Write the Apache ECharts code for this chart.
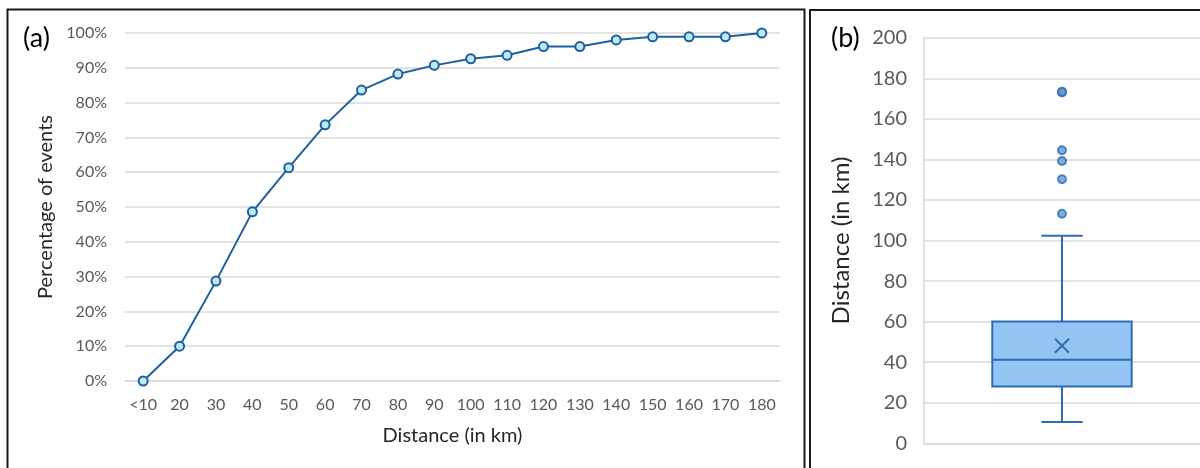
<!DOCTYPE html>
<html>
<head>
<meta charset="utf-8">
<script src="https://cdn.jsdelivr.net/npm/echarts@6/dist/echarts.min.js"></script>
<style>
  html, body { margin: 0; padding: 0; background: #fff; }
  #chart { width: 1200px; height: 468px; }
</style>
</head>
<body>
<div id="chart"></div>
<script>
// ---- Panel (a): cumulative percentage of events by distance ----
const distanceCategories = ['<10', '20', '30', '40', '50', '60', '70', '80', '90', '100', '110', '120', '130', '140', '150', '160', '170', '180'];
const cumulativePercent = [0, 10, 28.7, 48.6, 61.3, 73.6, 83.6, 88.2, 90.7, 92.6, 93.6, 96.1, 96.1, 98.0, 98.9, 98.9, 98.9, 100];
const percentTicks = [0, 10, 20, 30, 40, 50, 60, 70, 80, 90, 100];

// ---- Panel (b): box plot of distance ----
const boxCategories = ['Distance'];
// [category index, min whisker, Q1, median, Q3, max whisker, mean]
const boxStats = [[0, 10.5, 28, 41.2, 60, 102.4, 48.1]];
const outliers = [173, 173.4, 144.5, 139.2, 130.2, 113.2];
const distanceTicks = [0, 20, 40, 60, 80, 100, 120, 140, 160, 180, 200];

const FONT = 'Lato, "Open Sans", sans-serif';
const TICK_COLOR = '#595959';
const GRID_COLOR = '#D9D9D9';

const chart = echarts.init(document.getElementById('chart'), null, { renderer: 'canvas' });

const option = {
  backgroundColor: '#ffffff',
  animation: false,
  textStyle: { fontFamily: FONT },
  graphic: [
    { type: 'rect', shape: { x: 7.5, y: 9.5, width: 797, height: 470 }, style: { fill: 'none', stroke: '#1a1a1a', lineWidth: 2 }, silent: true },
    { type: 'rect', shape: { x: 810, y: 10, width: 400, height: 470 }, style: { fill: 'none', stroke: '#1a1a1a', lineWidth: 2 }, silent: true },
    { type: 'text', left: 23, top: 25, style: { text: '(a)', font: '27px ' + FONT, fill: '#000' } },
    { type: 'text', left: 831, top: 25, style: { text: '(b)', font: '27px ' + FONT, fill: '#000' } }
  ],
  grid: [
    { left: 125, right: 420, top: 33, bottom: 87, containLabel: false },
    { left: 924, width: 281, top: 37.7, bottom: 24.7, containLabel: false }
  ],
  xAxis: [
    {
      gridIndex: 0, type: 'category', data: distanceCategories, boundaryGap: true,
      axisLine: { show: true, lineStyle: { color: GRID_COLOR, width: 1.5 } },
      axisTick: { show: false },
      axisLabel: { color: TICK_COLOR, fontSize: 16, margin: 16, interval: 0, fontFamily: FONT },
      name: 'Distance (in km)', nameLocation: 'middle', nameGap: 45,
      nameTextStyle: { color: '#262626', fontSize: 20, fontFamily: FONT }
    },
    {
      gridIndex: 1, type: 'category', data: boxCategories, boundaryGap: true,
      axisLine: { show: true, lineStyle: { color: GRID_COLOR, width: 1.5 } },
      axisTick: { show: false },
      axisLabel: { show: false }
    }
  ],
  yAxis: [
    {
      gridIndex: 0, type: 'value', min: percentTicks[0], max: percentTicks[percentTicks.length - 1], interval: percentTicks[1] - percentTicks[0],
      axisLine: { show: false }, axisTick: { show: false },
      axisLabel: { color: TICK_COLOR, fontSize: 16, margin: 18, formatter: '{value}%', fontFamily: FONT },
      splitLine: { show: true, lineStyle: { color: GRID_COLOR, width: 1.5 } },
      name: 'Percentage of events', nameLocation: 'middle', nameGap: 65, nameRotate: 90,
      nameTextStyle: { color: '#262626', fontSize: 20, fontFamily: FONT }
    },
    {
      gridIndex: 1, type: 'value', min: distanceTicks[0], max: distanceTicks[distanceTicks.length - 1], interval: distanceTicks[1] - distanceTicks[0],
      axisLine: { show: true, lineStyle: { color: GRID_COLOR, width: 1.5 } }, axisTick: { show: false },
      axisLabel: { color: TICK_COLOR, fontSize: 20, margin: 17, fontFamily: FONT },
      splitLine: { show: true, lineStyle: { color: GRID_COLOR, width: 1.5 } },
      name: 'Distance (in km)', nameLocation: 'middle', nameGap: 71, nameRotate: 90,
      nameTextStyle: { color: '#262626', fontSize: 24, fontFamily: FONT }
    }
  ],
  series: [
    {
      type: 'line', xAxisIndex: 0, yAxisIndex: 0,
      data: cumulativePercent,
      lineStyle: { color: '#1F5F9F', width: 2 },
      symbol: 'circle', symbolSize: 9,
      itemStyle: { color: '#BDE9F8', borderColor: '#1F5F9F', borderWidth: 2 },
      z: 5
    },
    {
      type: 'custom', xAxisIndex: 1, yAxisIndex: 1,
      data: boxStats,
      encode: { x: 0, y: [1, 2, 3, 4, 5, 6] },
      renderItem: function (params, api) {
        const cat = api.value(0);
        const band = api.size([1, 0])[0];
        const boxW = band * 0.505;
        const capW = band * 0.15;
        const pMin = api.coord([cat, api.value(1)]);
        const pQ1 = api.coord([cat, api.value(2)]);
        const pMed = api.coord([cat, api.value(3)]);
        const pQ3 = api.coord([cat, api.value(4)]);
        const pMax = api.coord([cat, api.value(5)]);
        const pMean = api.coord([cat, api.value(6)]);
        const cx = pMed[0];
        const stroke = '#2E6DB4';
        const ls = { stroke: stroke, lineWidth: 2, fill: 'none' };
        const xs = 7;
        return {
          type: 'group',
          children: [
            { type: 'line', shape: { x1: cx, y1: pMax[1], x2: cx, y2: pQ3[1] }, style: ls },
            { type: 'line', shape: { x1: cx, y1: pQ1[1], x2: cx, y2: pMin[1] }, style: ls },
            { type: 'line', shape: { x1: cx - capW / 2, y1: pMax[1], x2: cx + capW / 2, y2: pMax[1] }, style: ls },
            { type: 'line', shape: { x1: cx - capW / 2, y1: pMin[1], x2: cx + capW / 2, y2: pMin[1] }, style: ls },
            { type: 'rect', shape: { x: cx - boxW / 2, y: pQ3[1], width: boxW, height: pQ1[1] - pQ3[1] }, style: { fill: '#95C5F3', stroke: stroke, lineWidth: 2 } },
            { type: 'line', shape: { x1: cx - boxW / 2, y1: pMed[1], x2: cx + boxW / 2, y2: pMed[1] }, style: ls },
            { type: 'line', shape: { x1: cx - xs, y1: pMean[1] - xs, x2: cx + xs, y2: pMean[1] + xs }, style: ls },
            { type: 'line', shape: { x1: cx - xs, y1: pMean[1] + xs, x2: cx + xs, y2: pMean[1] - xs }, style: ls }
          ]
        };
      },
      z: 3
    },
    {
      type: 'scatter', xAxisIndex: 1, yAxisIndex: 1,
      data: outliers.map(function (v) { return [0, v]; }),
      symbol: 'circle', symbolSize: 8,
      itemStyle: { color: '#5B9BD5', borderColor: '#2E6DB4', borderWidth: 2 },
      z: 6
    }
  ]
};

chart.setOption(option);
</script>
</body>
</html>
